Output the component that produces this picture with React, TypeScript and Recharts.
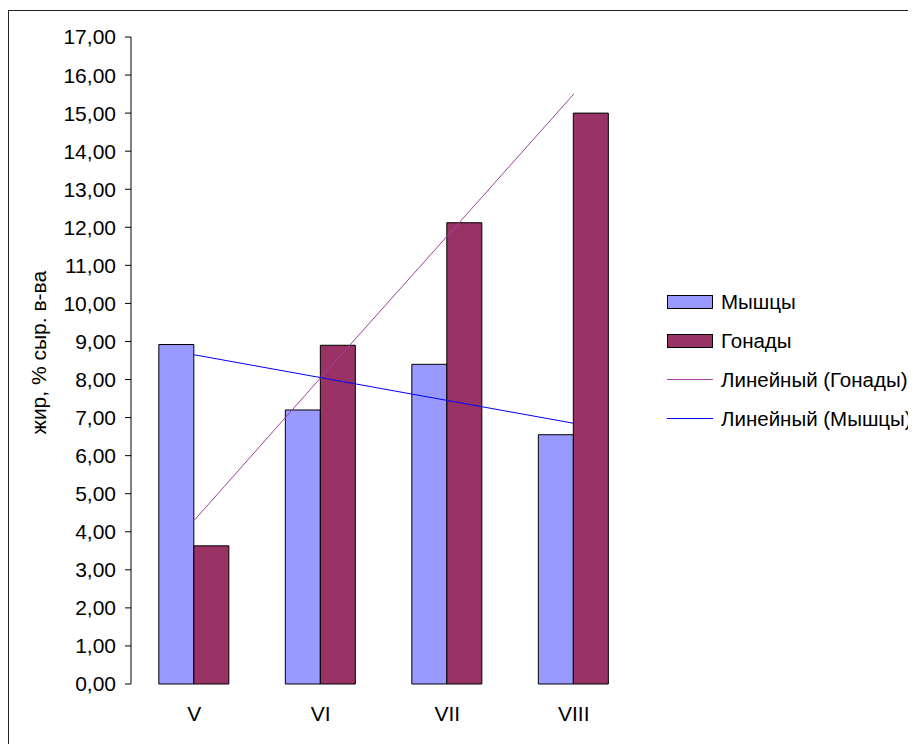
import { Bar, ComposedChart, Line, XAxis, YAxis } from "recharts";

const categories = ["V", "VI", "VII", "VIII"];
const muscles = [8.92, 7.2, 8.4, 6.55];
const gonads = [3.63, 8.9, 12.12, 15.0];
// trend lines at each category
const gonadsTrend = [4.3, 8.05, 11.77, 15.5];
const musclesTrend = [8.65, 8.05, 7.45, 6.85];
const yTicks = [0, 1, 2, 3, 4, 5, 6, 7, 8, 9, 10, 11, 12, 13, 14, 15, 16, 17];
const edgeTicks = [0, 1, 2, 3, 4];

const series = [
  { key: "muscles", name: "Мышцы", color: "#9999FF", kind: "bar" },
  { key: "gonads", name: "Гонады", color: "#993366", kind: "bar" },
  { key: "gonadsTrend", name: "Линейный (Гонады)", color: "#A040A0", kind: "line" },
  { key: "musclesTrend", name: "Линейный (Мышцы)", color: "#0000FF", kind: "line" },
];

const FONT = "'Liberation Sans', Arial, sans-serif";

const data = categories.map((cat, i) => ({
  cat,
  muscles: muscles[i],
  gonads: gonads[i],
  gonadsTrend: gonadsTrend[i],
  musclesTrend: musclesTrend[i],
}));

const fmt = (v: number) => v.toFixed(2).replace(".", ",");

function ChartLegend() {
  return (
    <div style={{ position: "absolute", left: 659, top: 274, fontFamily: FONT, fontSize: 20.5, color: "#000" }}>
      {series.map((s) => (
        <div key={s.key} style={{ display: "flex", alignItems: "center", height: 39, whiteSpace: "nowrap" }}>
          <div style={{ width: 46, display: "flex", alignItems: "center", marginRight: 8 }}>
            {s.kind === "bar" ? (
              <div style={{ width: 44, height: 12, background: s.color, border: "1px solid #000" }} />
            ) : (
              <div style={{ width: 46, height: 1, background: s.color }} />
            )}
          </div>
          <span>{s.name}</span>
        </div>
      ))}
    </div>
  );
}

export default function App() {
  return (
    <div style={{ position: "relative", width: 908, height: 736, overflow: "hidden", background: "#fff" }}>
      <div
        style={{
          position: "absolute",
          left: 0,
          top: 2,
          width: 1000,
          height: 1000,
          border: "1px solid #222",
        }}
      />
      <div style={{ position: "absolute", left: 0, top: 0 }}>
        <ComposedChart
          width={650}
          height={728}
          data={data}
          margin={{ top: 29, right: 21, left: 0, bottom: 2 }}
          barCategoryGap="22%"
          barGap={0}
          style={{ fontFamily: FONT }}
        >
          <XAxis
            xAxisId="edges"
            type="number"
            domain={[0, 4]}
            ticks={edgeTicks}
            tick={false}
            tickSize={6}
            height={0}
            axisLine={{ stroke: "#000" }}
            tickLine={{ stroke: "#000" }}
          />
          <XAxis
            xAxisId="cat"
            dataKey="cat"
            height={50}
            axisLine={false}
            tickLine={false}
            tickSize={0}
            tickMargin={22}
            tick={{ fontSize: 21, fill: "#000", fontFamily: FONT }}
          />
          <YAxis
            domain={[0, 17]}
            ticks={yTicks}
            interval={0}
            width={123}
            tickFormatter={fmt}
            tickSize={6}
            tickMargin={9}
            axisLine={{ stroke: "#000" }}
            tickLine={{ stroke: "#000" }}
            tick={{ fontSize: 21, fill: "#000", fontFamily: FONT }}
            label={{
              value: "жир, % сыр. в-ва",
              angle: -90,
              position: "center",
              dx: -31,
              dy: -8,
              style: { fontSize: 21, fill: "#000", fontFamily: FONT, textAnchor: "middle" },
            }}
          />
          <Bar xAxisId="cat" dataKey="muscles" name="Мышцы" fill="#9999FF" stroke="#000" strokeWidth={1} isAnimationActive={false} />
          <Bar xAxisId="cat" dataKey="gonads" name="Гонады" fill="#993366" stroke="#000" strokeWidth={1} isAnimationActive={false} />
          <Line
            xAxisId="cat"
            type="linear"
            dataKey="gonadsTrend"
            stroke="#A040A0"
            strokeWidth={1}
            dot={false}
            activeDot={false}
            isAnimationActive={false}
          />
          <Line
            xAxisId="cat"
            type="linear"
            dataKey="musclesTrend"
            stroke="#0000FF"
            strokeWidth={1}
            dot={false}
            activeDot={false}
            isAnimationActive={false}
          />
        </ComposedChart>
      </div>
      <ChartLegend />
    </div>
  );
}
